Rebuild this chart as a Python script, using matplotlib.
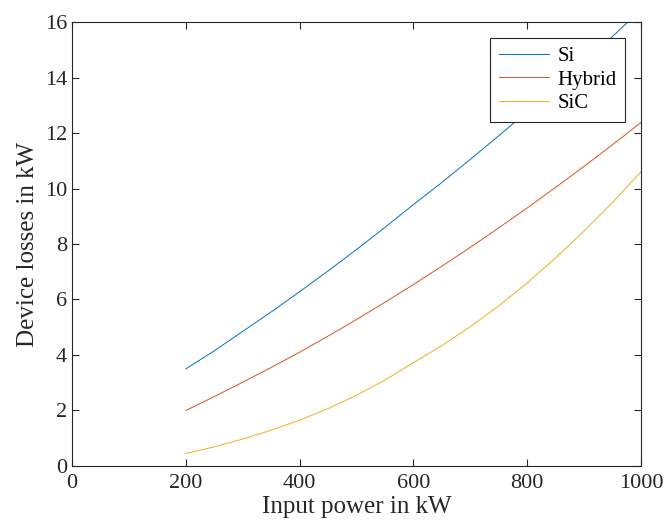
import matplotlib.pyplot as plt

power_kw = [200, 250, 300, 350, 400, 450, 500, 550, 600,
            650, 700, 750, 800, 850, 900, 950, 1000]
loss_si = [3.5, 4.15, 4.85, 5.55, 6.28, 7.03, 7.8, 8.6, 9.42,
           10.22, 11.05, 11.9, 12.77, 13.65, 14.55, 15.48, 16.45]
loss_hybrid = [2.0, 2.5, 3.02, 3.55, 4.1, 4.68, 5.28, 5.9, 6.54,
               7.2, 7.88, 8.58, 9.3, 10.04, 10.8, 11.58, 12.38]
loss_sic = [0.45, 0.69, 0.97, 1.29, 1.65, 2.07, 2.55, 3.1, 3.72,
            4.34, 5.02, 5.77, 6.6, 7.5, 8.47, 9.5, 10.6]

plt.rcParams['font.family'] = ['Liberation Serif', 'DejaVu Serif']
plt.rcParams['mathtext.fontset'] = 'stix'

fig = plt.figure(figsize=(6.68, 5.29), dpi=100)
ax = fig.add_axes([0.1078, 0.1191, 0.8518, 0.8393])

ax.plot(power_kw, loss_si, color="#0072BD", lw=0.7, label="Si")
ax.plot(power_kw, loss_hybrid, color="#D95319", lw=0.7, label="Hybrid")
ax.plot(power_kw, loss_sic, color="#EDB120", lw=0.7, label="SiC")

ax.set_xlim(0, 1000)
ax.set_ylim(0, 16)
ax.set_xticks(range(0, 1001, 200))
ax.set_yticks(range(0, 17, 2))

for s in ax.spines.values():
    s.set_color("#262626")
    s.set_linewidth(0.8)
ax.tick_params(direction="in", length=5, width=0.8, color="#262626",
               top=True, right=True, labelsize=16, labelcolor="#262626")
ax.tick_params(axis="x", pad=6)

ax.set_xlabel("Input power in kW", fontsize=18, color="#262626", labelpad=2)
ax.set_ylabel("Device losses in kW", fontsize=18, color="#262626", labelpad=4)

leg = ax.legend(loc="upper right", fontsize=15, fancybox=False, framealpha=1,
                edgecolor="#262626", borderaxespad=0.75, handlelength=2.4,
                handletextpad=0.4, labelspacing=0.2, borderpad=0.42)
leg.get_frame().set_linewidth(0.8)

fig.savefig("out.png", dpi=100)
